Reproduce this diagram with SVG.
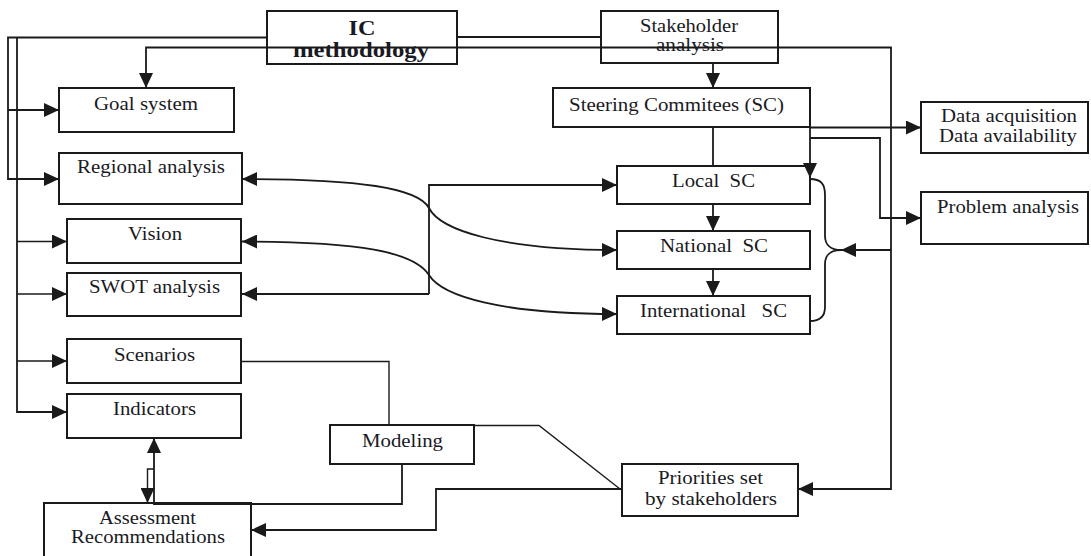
<svg xmlns="http://www.w3.org/2000/svg" width="1091" height="556" viewBox="0 0 1091 556">
<style>
.box{fill:#fff;stroke:#1a1a1a;stroke-width:2}
.t{font-family:"Liberation Serif","Times New Roman",serif;font-size:19px;fill:#1a1a24}
.b{font-weight:bold;font-size:21px}
.c{fill:none;stroke:#1a1a1a;stroke-width:1.8}
.thin{stroke-width:1.4}
.a{marker-end:url(#ah)}
.s{marker-start:url(#as)}
</style>
<defs>
<marker id="ah" markerUnits="userSpaceOnUse" markerWidth="15" markerHeight="14" refX="15" refY="7" orient="auto"><path d="M0,0 L15,7 L0,14 z" fill="#1a1a1a"/></marker>
<marker id="as" markerUnits="userSpaceOnUse" markerWidth="15" markerHeight="14" refX="15" refY="7" orient="auto-start-reverse"><path d="M0,0 L15,7 L0,14 z" fill="#1a1a1a"/></marker>
</defs>
<rect width="1091" height="556" fill="#fff"/>
<g id="ic"><rect class="box" x="267" y="11" width="190" height="53"/><text class="t b" x="362" y="35" text-anchor="middle" textLength="27" lengthAdjust="spacingAndGlyphs">IC</text><text class="t b" x="361" y="57" text-anchor="middle" textLength="136" lengthAdjust="spacingAndGlyphs">methodology</text></g>
<g id="stakeholder"><rect class="box" x="601" y="11" width="177" height="52"/><text class="t" x="689" y="32" text-anchor="middle" textLength="98" lengthAdjust="spacingAndGlyphs">Stakeholder</text><text class="t" x="690" y="51" text-anchor="middle" textLength="68" lengthAdjust="spacingAndGlyphs">analysis</text></g>
<g id="goal"><rect class="box" x="59" y="88" width="175" height="44"/><text class="t" x="94" y="110" textLength="104" lengthAdjust="spacingAndGlyphs">Goal system</text></g>
<g id="regional"><rect class="box" x="59" y="153" width="183" height="51"/><text class="t" x="77" y="173" textLength="148" lengthAdjust="spacingAndGlyphs">Regional analysis</text></g>
<g id="vision"><rect class="box" x="67" y="219" width="174" height="44"/><text class="t" x="128" y="240" textLength="54" lengthAdjust="spacingAndGlyphs">Vision</text></g>
<g id="swot"><rect class="box" x="67" y="273" width="174" height="43"/><text class="t" x="89" y="293" textLength="131" lengthAdjust="spacingAndGlyphs">SWOT analysis</text></g>
<g id="scenarios"><rect class="box" x="67" y="339" width="174" height="44"/><text class="t" x="114" y="361" textLength="81" lengthAdjust="spacingAndGlyphs">Scenarios</text></g>
<g id="indicators"><rect class="box" x="67" y="394" width="174" height="44"/><text class="t" x="113" y="415" textLength="83" lengthAdjust="spacingAndGlyphs">Indicators</text></g>
<g id="steering"><rect class="box" x="553" y="88" width="257" height="39"/><text class="t" x="569" y="111" textLength="215" lengthAdjust="spacingAndGlyphs">Steering Commitees (SC)</text></g>
<g id="data"><rect class="box" x="921" y="102" width="167" height="51"/><text class="t" x="941" y="122" textLength="136" lengthAdjust="spacingAndGlyphs">Data acquisition</text><text class="t" x="939" y="142" textLength="138" lengthAdjust="spacingAndGlyphs">Data availability</text></g>
<g id="problem"><rect class="box" x="921" y="192" width="167" height="52"/><text class="t" x="937" y="213" textLength="142" lengthAdjust="spacingAndGlyphs">Problem analysis</text></g>
<g id="local"><rect class="box" x="617" y="166" width="193" height="38"/><text class="t" x="672" y="187" textLength="83" lengthAdjust="spacingAndGlyphs" xml:space="preserve">Local  SC</text></g>
<g id="national"><rect class="box" x="617" y="231" width="193" height="38"/><text class="t" x="660" y="252" textLength="108" lengthAdjust="spacingAndGlyphs" xml:space="preserve">National  SC</text></g>
<g id="international"><rect class="box" x="617" y="296" width="193" height="38"/><text class="t" x="640" y="317" textLength="147" lengthAdjust="spacingAndGlyphs" xml:space="preserve">International   SC</text></g>
<g id="modeling"><rect class="box" x="330" y="425" width="144" height="39"/><text class="t" x="362" y="447" textLength="81" lengthAdjust="spacingAndGlyphs">Modeling</text></g>
<g id="priorities"><rect class="box" x="622" y="464" width="176" height="52"/><text class="t" x="658" y="484" textLength="105" lengthAdjust="spacingAndGlyphs">Priorities set</text><text class="t" x="645" y="505" textLength="132" lengthAdjust="spacingAndGlyphs">by stakeholders</text></g>
<g id="assessment"><rect class="box" x="44" y="503" width="207" height="60"/><text class="t" x="99" y="524" textLength="97" lengthAdjust="spacingAndGlyphs">Assessment</text><text class="t" x="71" y="543" textLength="154" lengthAdjust="spacingAndGlyphs">Recommendations</text></g>
<g id="connectors">
<path class="c" d="M267,37.5 H8 V179 H59" marker-end="url(#ah)"/>
<path class="c" d="M17,37.5 V412 H67" marker-end="url(#ah)"/>
<path class="c a" d="M8,110 H59"/>
<path class="c thin a" d="M17,241.5 H67"/>
<path class="c thin a" d="M17,294 H67"/>
<path class="c thin a" d="M17,361 H67"/>
<path class="c" d="M457,37 H601"/>
<path class="c a" d="M891,250 V47.5 H146 V88"/>
<path class="c a" d="M891,250 H841"/>
<path class="c a" d="M891,250 V489 H798"/>
<path class="c a" d="M713,63 V88"/>
<path class="c" d="M713,127 V166"/>
<path class="c a" d="M810,127.5 H921"/>
<path class="c a" d="M810,138 H880 V218 H921"/>
<path class="c a" d="M810,127 V178"/>
<path class="c a" d="M713,204 V231"/>
<path class="c a" d="M713,269 V296"/>
<path class="c" d="M810,179 C821,179 825,184 825,195 V236 C825,245 831,250 841,250 C831,250 825,255 825,264 V307 C825,316 820,321 810,321"/>
<path class="c a" d="M429,294 V185 H617"/>
<path class="c a" d="M429,294 H242"/>
<path class="c a s" d="M242,179 C360,179 418,188 429,208 C440,230 500,250 617,250"/>
<path class="c a s" d="M242,241.5 C360,241.5 414,252 429,275 C442,296 500,314 617,314"/>
<path class="c thin" d="M241,361.5 H389 V425"/>
<path class="c a" d="M402,464 V504 H154 V438"/>
<path class="c thin a" d="M154,469 H147.5 V503"/>
<path class="c thin" d="M474,425.5 H539 L620,489"/>
<path class="c a" d="M622,489 H436 V530 H251"/>
</g>
</svg>
